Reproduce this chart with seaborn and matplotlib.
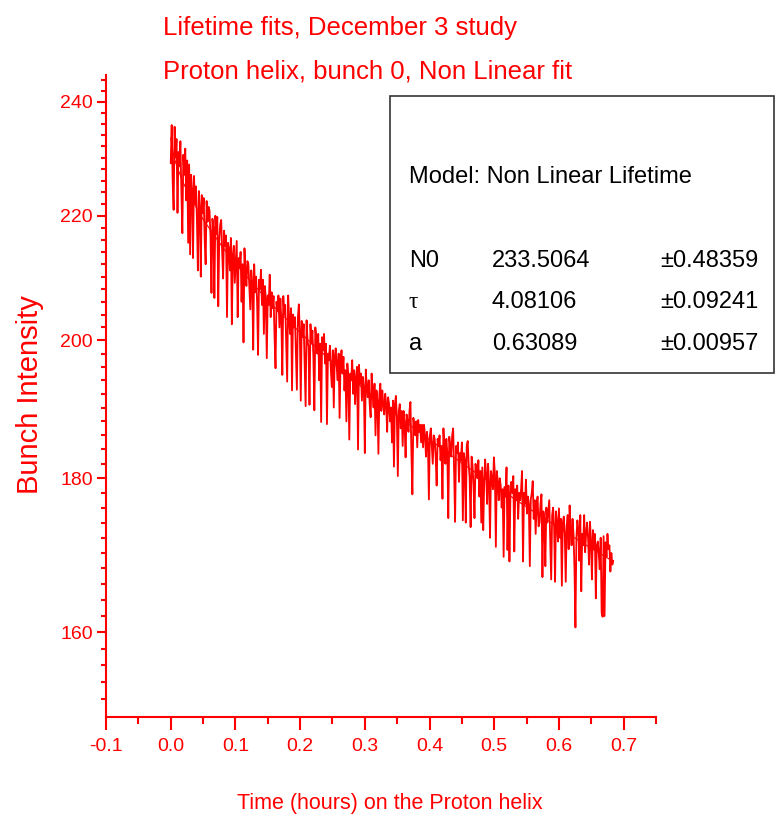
import numpy as np
import pandas as pd
import seaborn as sns
import matplotlib
matplotlib.use("Agg")
import matplotlib.pyplot as plt
from matplotlib.ticker import FixedLocator, FuncFormatter, NullFormatter
from matplotlib.patches import Rectangle

# ---------------- data ----------------
t_start, t_end = 0.0, 0.684
intensity = [
    229.0, 235.8, 226.0, 221.0, 235.5, 230.0, 233.3, 220.5, 231.0, 228.5, 232.9, 224.0, 217.1, 230.5, 227.0, 231.6, 222.6, 229.5, 215.5, 228.8,
    213.6, 227.0, 224.5, 213.0, 226.8, 222.0, 225.0, 219.5, 211.0, 224.2, 221.5, 210.0, 223.5, 220.5, 223.0, 216.0, 212.0, 222.5, 219.0, 221.5,
    220.9, 216.5, 207.4, 219.5, 218.0, 206.6, 220.0, 217.0, 219.8, 205.3, 216.0, 218.5, 219.3, 214.0, 209.7, 217.5, 215.0, 216.7, 203.6, 215.5,
    214.5, 211.0, 216.3, 202.5, 213.5, 215.0, 209.0, 212.5, 215.8, 203.6, 213.0, 211.5, 214.0, 206.0, 212.0, 199.7, 214.6, 211.0, 208.5, 212.5,
    212.1, 208.5, 204.8, 211.0, 209.0, 198.6, 212.0, 207.5, 210.0, 206.0, 197.8, 209.5, 208.0, 211.1, 205.5, 209.5, 201.0, 208.5, 206.5, 197.3,
    207.0, 205.5, 210.3, 203.6, 207.5, 205.0, 206.9, 200.5, 195.8, 206.0, 204.5, 207.0, 202.0, 206.5, 203.0, 194.8, 206.9, 204.0, 205.5, 199.5,
    193.8, 207.0, 203.5, 201.0, 205.0, 192.5, 204.0, 202.0, 203.6, 198.0, 192.6, 203.5, 205.6, 201.5, 191.0, 203.0, 200.5, 202.5, 196.0, 190.2,
    203.1, 200.0, 199.0, 190.4, 202.5, 199.5, 201.5, 197.5, 189.6, 202.0, 200.5, 198.0, 201.0, 194.0, 199.5, 187.9, 200.5, 198.5, 201.0, 196.5,
    199.5, 187.6, 198.0, 197.0, 199.2, 195.5, 193.0, 198.5, 190.0, 197.5, 198.8, 196.0, 194.0, 198.0, 188.5, 197.0, 198.5, 195.0, 197.5, 192.5,
    195.5, 188.0, 196.5, 194.5, 185.4, 195.0, 194.0, 197.0, 192.0, 195.5, 190.5, 194.5, 196.0, 184.0, 196.3, 193.5, 195.0, 191.0, 194.5, 193.0,
    183.5, 195.6, 193.0, 191.5, 194.0, 190.5, 188.6, 195.0, 192.0, 190.0, 193.5, 186.0, 192.5, 191.0, 183.4, 192.0, 193.5, 189.5, 192.5, 190.5,
    189.0, 192.0, 190.5, 186.5, 191.5, 190.5, 188.0, 190.0, 185.0, 191.0, 181.6, 190.5, 191.7, 188.5, 180.3, 189.5, 190.5, 187.0, 189.5, 184.5,
    189.5, 187.5, 182.9, 189.0, 188.0, 186.5, 189.5, 190.8, 183.5, 177.8, 188.5, 187.5, 186.0, 188.0, 184.3, 188.2, 186.5, 187.5, 185.0, 187.5,
    184.3, 187.5, 186.0, 183.0, 186.5, 185.0, 177.1, 186.0, 187.0, 184.5, 182.0, 186.0, 185.5, 183.0, 179.0, 185.5, 184.5, 186.0, 182.5, 184.5,
    177.2, 187.0, 184.0, 182.0, 185.5, 183.5, 174.6, 185.8, 184.5, 183.0, 186.0, 187.0, 181.0, 174.1, 184.5, 183.5, 185.0, 179.5, 183.5, 182.5,
    185.0, 174.3, 183.5, 182.5, 174.0, 184.5, 185.2, 182.0, 180.0, 173.4, 183.0, 181.7, 179.0, 174.6, 182.0, 181.3, 180.0, 182.5, 177.5, 181.0,
    174.0, 181.5, 173.0, 179.5, 182.6, 180.5, 176.5, 182.0, 179.5, 172.0, 181.0, 180.0, 178.5, 182.9, 180.5, 170.8, 181.0, 179.5, 177.0, 180.0,
    179.0, 176.0, 178.5, 169.5, 178.8, 177.5, 181.5, 170.4, 179.0, 168.9, 177.5, 179.5, 178.0, 180.3, 170.2, 178.5, 177.0, 179.0, 174.5, 178.0,
    177.0, 178.5, 181.0, 168.9, 178.0, 176.5, 179.8, 175.2, 177.5, 176.5, 168.3, 177.1, 178.0, 179.6, 174.5, 177.0, 172.5, 176.5, 177.5, 173.5,
    174.0, 176.5, 177.8, 166.9, 175.5, 174.5, 168.3, 176.0, 174.0, 175.5, 177.0, 172.0, 166.6, 175.0, 176.0, 173.5, 166.3, 175.5, 174.0, 171.5,
    175.9, 172.0, 174.5, 165.8, 174.0, 174.8, 172.5, 166.3, 173.5, 175.0, 170.5, 176.3, 173.0, 171.0, 174.5, 172.5, 168.0, 160.6, 172.0, 174.3,
    173.0, 169.0, 175.0, 165.1, 172.5, 171.0, 175.0, 170.1, 172.5, 174.0, 172.0, 168.5, 174.1, 171.5, 166.6, 173.0, 170.5, 172.5, 164.2, 171.0,
    171.5, 170.0, 167.9, 172.0, 162.4, 161.9, 172.2, 162.0, 171.4, 169.5, 172.5, 170.5, 171.0, 167.6, 170.0, 168.5, 169.0,
]
fit_time = [0.0, 0.005, 0.01, 0.02, 0.03, 0.05, 0.08, 0.10, 0.15, 0.20,
            0.25, 0.30, 0.35, 0.40, 0.45, 0.50, 0.55, 0.60, 0.65, 0.684]
fit_value = [233.5, 230.1, 228.3, 225.5, 223.2, 219.4, 214.8, 212.1, 206.2, 201.2,
             196.7, 192.6, 188.8, 185.4, 182.1, 179.0, 176.1, 173.3, 170.6, 168.9]

y_major = [160, 180, 200, 220, 240]
x_major = [-0.1, 0.0, 0.1, 0.2, 0.3, 0.4, 0.5, 0.6, 0.7]
x_minor = [-0.05, 0.05, 0.15, 0.25, 0.35, 0.45, 0.55, 0.65, 0.75]

title_lines = ["Lifetime fits, December 3 study", "Proton helix, bunch 0, Non Linear fit"]
x_label = "Time (hours) on the Proton helix"
y_label = "Bunch Intensity"
model_text = "Model: Non Linear Lifetime"
param_names = ["N0", "\u03c4", "a"]
param_values = ["233.5064", "4.08106", "0.63089"]
param_errors = ["\u00b10.48359", "\u00b10.09241", "\u00b10.00957"]

# ---------------- style ----------------
sns.set_style("ticks")
SANS = ["Liberation Sans", "DejaVu Sans"]
plt.rcParams["font.family"] = SANS
RED = "#ff0000"

W, H = 779, 819
fig = plt.figure(figsize=(W / 100, H / 100), dpi=100)
fig.patch.set_facecolor("white")

def fx(px):
    return px / W

def fy(py):
    return 1 - py / H

left, right, top, bottom = 106, 656, 75, 716.7
ax = fig.add_axes([fx(left), fy(bottom), fx(right) - fx(left), fy(top) - fy(bottom)])
ax.set_facecolor("white")

n = len(intensity)
times = np.linspace(t_start, t_end, n)
df = pd.DataFrame({"t": times, "v": intensity})
sns.lineplot(data=df, x="t", y="v", ax=ax, color=RED, lw=1.3, estimator=None, sort=False)
fit_df = pd.DataFrame({"t": fit_time, "v": fit_value})
sns.lineplot(data=fit_df, x="t", y="v", ax=ax, color=RED, lw=0.8, estimator=None, sort=False)

ax.set_yscale("log")
ax.set_xlim(-0.1, 0.75)
ax.set_ylim(150, 245)
ax.yaxis.set_major_locator(FixedLocator(y_major))
ax.yaxis.set_major_formatter(FuncFormatter(lambda v, p: f"{v:.0f}"))
y_minor = [v for v in range(152, 245, 2) if v not in y_major]
ax.yaxis.set_minor_locator(FixedLocator(y_minor))
ax.yaxis.set_minor_formatter(NullFormatter())
ax.xaxis.set_major_locator(FixedLocator(x_major))
ax.xaxis.set_major_formatter(FuncFormatter(lambda v, p: f"{v:.1f}"))
ax.xaxis.set_minor_locator(FixedLocator(x_minor))

for s in ["top", "right"]:
    ax.spines[s].set_visible(False)
for s in ["left", "bottom"]:
    ax.spines[s].set_color(RED)
    ax.spines[s].set_linewidth(1.5)

ax.tick_params(axis="y", which="major", direction="out", length=6.5, width=1.5,
               color=RED, labelcolor=RED, labelsize=14, pad=3)
ax.tick_params(axis="y", which="minor", direction="out", length=3.6, width=1.5, color=RED)
ax.tick_params(axis="x", which="major", direction="out", length=9.4, width=1.5,
               color=RED, labelcolor=RED, labelsize=14, pad=6)
ax.tick_params(axis="x", which="minor", direction="out", length=5, width=1.5, color=RED)
ax.set_xlabel("")
ax.set_ylabel("")

# titles and labels
fig.text(fx(163), fy(35), title_lines[0], color=RED, fontsize=18.5, va="baseline", ha="left")
fig.text(fx(163), fy(78), title_lines[1], color=RED, fontsize=18.5, va="baseline", ha="left")
fig.text(fx(390), fy(803), x_label, color=RED, fontsize=15.5, va="center", ha="center")
fig.text(fx(30), fy(395), y_label, color=RED, fontsize=21, va="center", ha="center",
         rotation=90)

# fit parameter box
fig.patches.append(Rectangle((fx(390), fy(373)), fx(774) - fx(390), fy(96) - fy(373),
                             transform=fig.transFigure, facecolor="white",
                             edgecolor="#333333", lw=1.2, zorder=5))
fig.text(fx(409), fy(183), model_text, color="black", fontsize=17, va="baseline", ha="left", zorder=6)
rows_y = [267, 308, 350]
for name, val, err, yy in zip(param_names, param_values, param_errors, rows_y):
    fam = ["Liberation Serif", "DejaVu Serif"] if name == "\u03c4" else SANS
    fig.text(fx(409), fy(yy), name, color="black", fontsize=17, va="baseline", ha="left",
             family=fam, zorder=6)
    fig.text(fx(492), fy(yy), val, color="black", fontsize=17, va="baseline", ha="left", zorder=6)
    fig.text(fx(660), fy(yy), err, color="black", fontsize=17, va="baseline", ha="left", zorder=6)

fig.savefig("out.png", dpi=100, facecolor="white")
